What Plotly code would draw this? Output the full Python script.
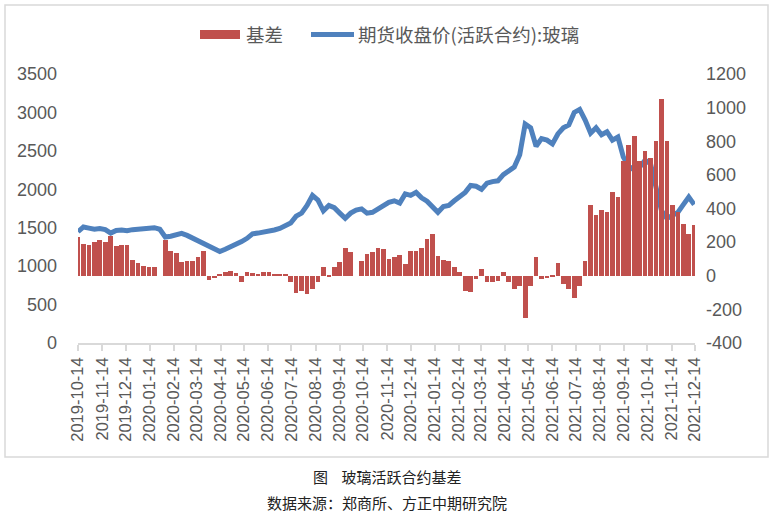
import plotly.graph_objects as go
import pandas as pd

# ---- data (weekly readings) ----
week_dates = pd.date_range("2019-10-14", periods=114, freq="7D")

futures_price = [
    1448, 1510, 1495, 1480, 1490, 1475, 1430, 1465, 1470, 1460,
    1475, 1480, 1500, 1500, 1500, 1480, 1380, 1390, 1410, 1427,
    1400, 1366, 1340, 1300, 1260, 1220, 1190, 1220, 1250, 1275,
    1320, 1362, 1420, 1430, 1440, 1450, 1470, 1490, 1520, 1560,
    1650, 1690, 1790, 1920, 1860, 1720, 1790, 1760, 1690, 1622,
    1690, 1730, 1745, 1690, 1700, 1740, 1780, 1830, 1850, 1820,
    1940, 1920, 1960, 1890, 1845, 1760, 1700, 1775, 1790, 1850,
    1910, 1960, 2050, 2040, 2000, 2080, 2100, 2110, 2190, 2240,
    2290, 2450, 2850, 2800, 2560, 2660, 2640, 2590, 2720, 2800,
    2836, 3000, 3040, 2900, 2730, 2800, 2710, 2749, 2640, 2680,
    2420, 2300, 2250, 2290, 2380, 2330, 2000, 1720, 1620, 1660,
    1700, 1800, 1900, 1800,
]

basis = [
    230, 190, 185, 200, 210, 200, 235, 175, 180, 185,
    95, 77, 60, 54, 54, None, 214, 150, 137, 80,
    85, 90, 110, 150, -25, -15, 10, 25, 30, 15,
    -35, 20, 15, 10, 20, 25, 10, 10, 5, -40,
    -100, -90, -110, -80, -40, 50, -10, 50, 80, 165,
    140, None, 90, 130, 140, 165, 160, 100, 110, 125,
    70, 150, 145, 165, 220, 250, 120, 95, 90, 50,
    20, -90, -95, -20, 40, -40, -35, -30, 20, -40,
    -80, -60, -250, -60, 110, -20, -15, -10, 75, -50,
    -80, -130, -60, 90, 420, 360, 390, 380, 500, 470,
    680, 780, 830, 680, 740, 700, 800, 1050, 800, 420,
    380, 310, 250, 300,
]

tick_dates = pd.date_range("2019-10-14", "2021-12-14", freq=pd.DateOffset(months=1))
tick_labels = [d.strftime("%Y-%m-%d") for d in tick_dates]

left_ticks = [0, 500, 1000, 1500, 2000, 2500, 3000, 3500]
right_ticks = [-400, -200, 0, 200, 400, 600, 800, 1000, 1200]

legend_names = ["基差", "期货收盘价(活跃合约):玻璃"]
caption_title = "图    玻璃活跃合约基差"
caption_source = "数据来源：郑商所、方正中期研究院"

# ---- geometry helpers (pixels -> paper) ----
W, H = 773, 513
PL, PR, PT, PB = 78, 695, 74, 343


def px(x):
    return (x - PL) / (PR - PL)


def py(y):
    return (PB - y) / (PB - PT)


RED = "#c0504d"
BLUE = "#4f81bd"
GREY_TXT = "#595959"
AXIS_GREY = "#d9d9d9"
FONT = "Liberation Sans, Arial, sans-serif"
CJK = "Noto Sans CJK SC, sans-serif"

fig = go.Figure()
fig.add_trace(go.Bar(
    x=week_dates, y=basis, name=legend_names[0],
    marker=dict(color=RED, line=dict(width=0)),
    width=6 * 86400000, yaxis="y2", showlegend=False,
))
fig.add_trace(go.Scatter(
    x=week_dates, y=futures_price, name=legend_names[1], mode="lines",
    line=dict(color=BLUE, width=5), yaxis="y", showlegend=False,
    connectgaps=True,
))

fig.update_layout(
    width=W, height=H,
    margin=dict(l=PL, r=W - PR, t=PT, b=H - PB),
    paper_bgcolor="white", plot_bgcolor="white",
    font=dict(family=FONT, color=GREY_TXT, size=16),
    bargap=0,
    xaxis=dict(
        type="date", range=["2019-10-14", "2021-12-14"],
        tickvals=tick_dates, ticktext=tick_labels, tickangle=-90,
        showgrid=False, showline=True, linecolor=AXIS_GREY, linewidth=1.5,
        ticks="outside", ticklen=6, tickcolor=AXIS_GREY, tickwidth=1.5,
        tickfont=dict(size=16.5, color=GREY_TXT), zeroline=False,
    ),
    yaxis=dict(
        range=[0, 3500], tickvals=left_ticks, ticktext=[str(v) for v in left_ticks],
        showgrid=False, zeroline=False, showline=False,
        ticklabelstandoff=20, tickfont=dict(size=18, color=GREY_TXT),
    ),
    yaxis2=dict(
        range=[-400, 1200], tickvals=right_ticks, ticktext=[str(v) for v in right_ticks],
        overlaying="y", side="right",
        showgrid=False, zeroline=False, showline=False,
        ticklabelstandoff=10, tickfont=dict(size=18, color=GREY_TXT),
    ),
)

# outer chart border
fig.add_shape(type="rect", xref="paper", yref="paper",
              x0=px(5), x1=px(768), y0=py(457), y1=py(5),
              line=dict(color=AXIS_GREY, width=1.5), layer="below")

# custom legend
fig.add_shape(type="rect", xref="paper", yref="paper",
              x0=px(200), x1=px(240), y0=py(39), y1=py(30),
              fillcolor=RED, line=dict(width=0))
fig.add_annotation(xref="paper", yref="paper", x=px(244), y=py(34.5),
                   text=legend_names[0], showarrow=False, xanchor="left",
                   yanchor="middle", font=dict(family=CJK, size=18.5, color=GREY_TXT))
fig.add_shape(type="line", xref="paper", yref="paper",
              x0=px(311), x1=px(354), y0=py(34.5), y1=py(34.5),
              line=dict(color=BLUE, width=5))
fig.add_annotation(xref="paper", yref="paper", x=px(356), y=py(34.5),
                   text=legend_names[1], showarrow=False, xanchor="left",
                   yanchor="middle", font=dict(family=CJK, size=18.5, color=GREY_TXT))

# captions
fig.add_annotation(xref="paper", yref="paper", x=px(387), y=py(476),
                   text=caption_title, showarrow=False, xanchor="center",
                   yanchor="middle", font=dict(family=CJK, size=15, color="#222222"))
fig.add_annotation(xref="paper", yref="paper", x=px(387), y=py(502),
                   text=caption_source, showarrow=False, xanchor="center",
                   yanchor="middle", font=dict(family=CJK, size=15, color="#222222"))

fig.write_html("out.html")
